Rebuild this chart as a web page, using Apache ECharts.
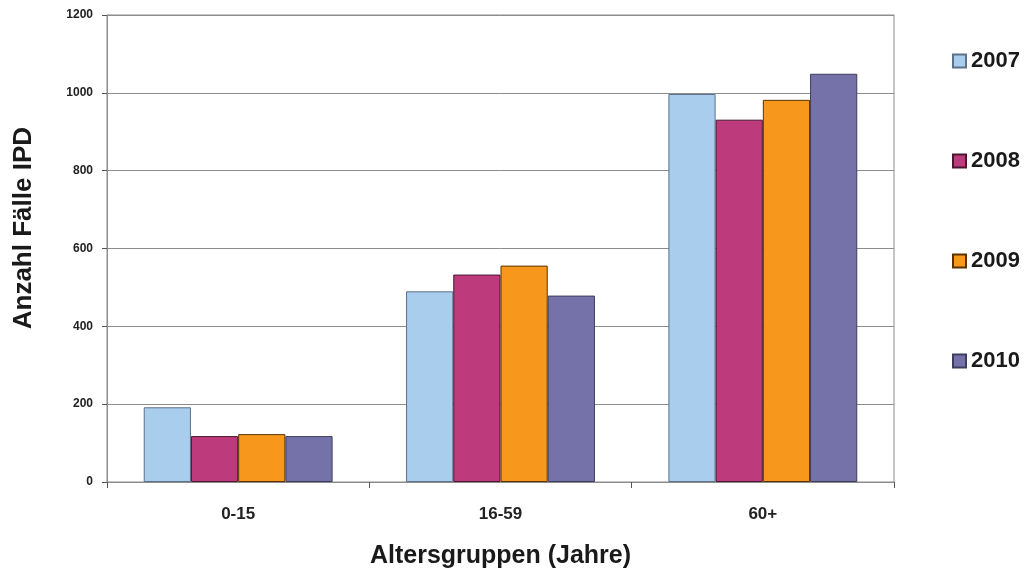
<!DOCTYPE html>
<html>
<head>
<meta charset="utf-8">
<script src="https://cdn.jsdelivr.net/npm/echarts@6/dist/echarts.min.js"></script>
<style>
  html, body { margin: 0; padding: 0; background: #ffffff; }
  #chart { width: 1034px; height: 574px; }
</style>
</head>
<body>
<div id="chart"></div>
<script>
// Age groups on the x axis
const categories = ['0-15', '16-59', '60+'];
// Invasive pneumococcal disease cases per year
const years = ['2007', '2008', '2009', '2010'];
const cases2007 = [192, 490, 997];
const cases2008 = [118, 533, 931];
const cases2009 = [123, 556, 982];
const cases2010 = [118, 479, 1049];
const yTicks = { min: 0, max: 1200, interval: 200 };

const seriesValues = [cases2007, cases2008, cases2009, cases2010];
const fills = ['#a9cdec', '#bd3a7c', '#f7981d', '#7472a8'];
const borders = ['#5d7189', '#4a1630', '#5a3200', '#3e3d5f'];

const font = '"Liberation Sans", Arial, sans-serif';

const chart = echarts.init(document.getElementById('chart'));
chart.setOption({
  backgroundColor: '#ffffff',
  animation: false,
  grid: {
    left: 107, right: 140, top: 15, bottom: 92,
    show: true, borderColor: '#8c8c8c', borderWidth: 1
  },
  legend: {
    orient: 'vertical',
    left: 947, top: 45,
    itemWidth: 13, itemHeight: 13, itemGap: 78,
    icon: 'rect',
    textStyle: { fontFamily: font, fontSize: 22, fontWeight: 'bold', color: '#1a1a1a' },
    data: years
  },
  xAxis: {
    type: 'category',
    data: categories,
    axisLine: { lineStyle: { color: '#8c8c8c', width: 1 } },
    axisTick: { show: true, alignWithLabel: false, length: 6, lineStyle: { color: '#555' } },
    axisLabel: { fontFamily: font, fontSize: 17, fontWeight: 'bold', color: '#222', margin: 24 },
    name: 'Altersgruppen (Jahre)',
    nameLocation: 'middle',
    nameGap: 62,
    nameTextStyle: { fontFamily: font, fontSize: 25, fontWeight: 'bold', color: '#1a1a1a' }
  },
  yAxis: {
    type: 'value',
    min: yTicks.min, max: yTicks.max, interval: yTicks.interval,
    axisLine: { show: true, lineStyle: { color: '#8c8c8c', width: 1 } },
    axisTick: { show: true, length: 5, lineStyle: { color: '#555' } },
    splitLine: { lineStyle: { color: '#8c8c8c', width: 1 } },
    axisLabel: {
      fontFamily: font, fontSize: 12, fontWeight: 'bold', color: '#222', margin: 14,
      formatter: v => String(v)
    }
  },
  graphic: [{
    type: 'text',
    left: 11, top: 127,
    rotation: Math.PI / 2,
    style: {
      text: 'Anzahl Fälle IPD',
      fontFamily: font, fontSize: 26, fontWeight: 'bold', fill: '#1a1a1a'
    }
  }],
  series: years.map((y, i) => ({
    name: y,
    type: 'bar',
    data: seriesValues[i],
    barGap: '0%',
    barCategoryGap: '28%',
    itemStyle: { color: fills[i], borderColor: borders[i], borderWidth: 1 }
  }))
});
</script>
</body>
</html>
